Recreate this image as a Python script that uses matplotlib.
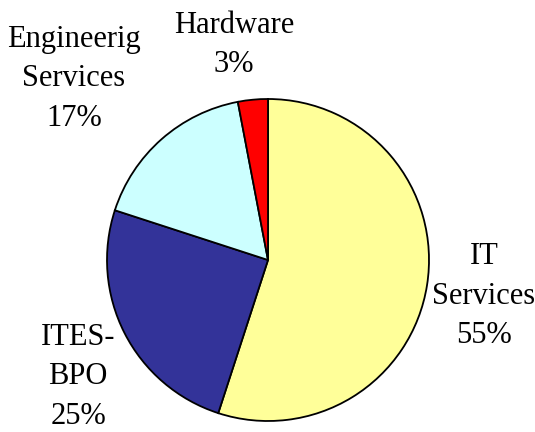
import matplotlib
matplotlib.use("Agg")
import matplotlib.pyplot as plt

labels = ["IT\nServices", "ITES-\nBPO", "Engineerig\nServices", "Hardware"]
shares = [55, 25, 17, 3]
colors = ["#FFFF99", "#333399", "#CCFFFF", "#FF0000"]

# label block centres in pixels (x, y from top)
label_px = [(484, 296), (78, 377), (74, 79), (234, 45)]

W, H = 535, 432
fig = plt.figure(figsize=(W / 100, H / 100), dpi=100)

cx, cy, r = 268, 260, 161
ax = fig.add_axes([(cx - r) / W, (H - cy - r) / H, 2 * r / W, 2 * r / H])
ax.pie(shares, colors=colors, startangle=90, counterclock=False,
       wedgeprops=dict(edgecolor="black", linewidth=1.3))
ax.set_xlim(-1, 1)
ax.set_ylim(-1, 1)
ax.set_aspect("equal")
ax.axis("off")

for lab, val, (px, py) in zip(labels, shares, label_px):
    fig.text(px / W, 1 - py / H, f"{lab}\n{val}%", ha="center", va="center",
             fontsize=22, family="Liberation Serif", linespacing=1.47)

fig.savefig("out.png", dpi=100)
